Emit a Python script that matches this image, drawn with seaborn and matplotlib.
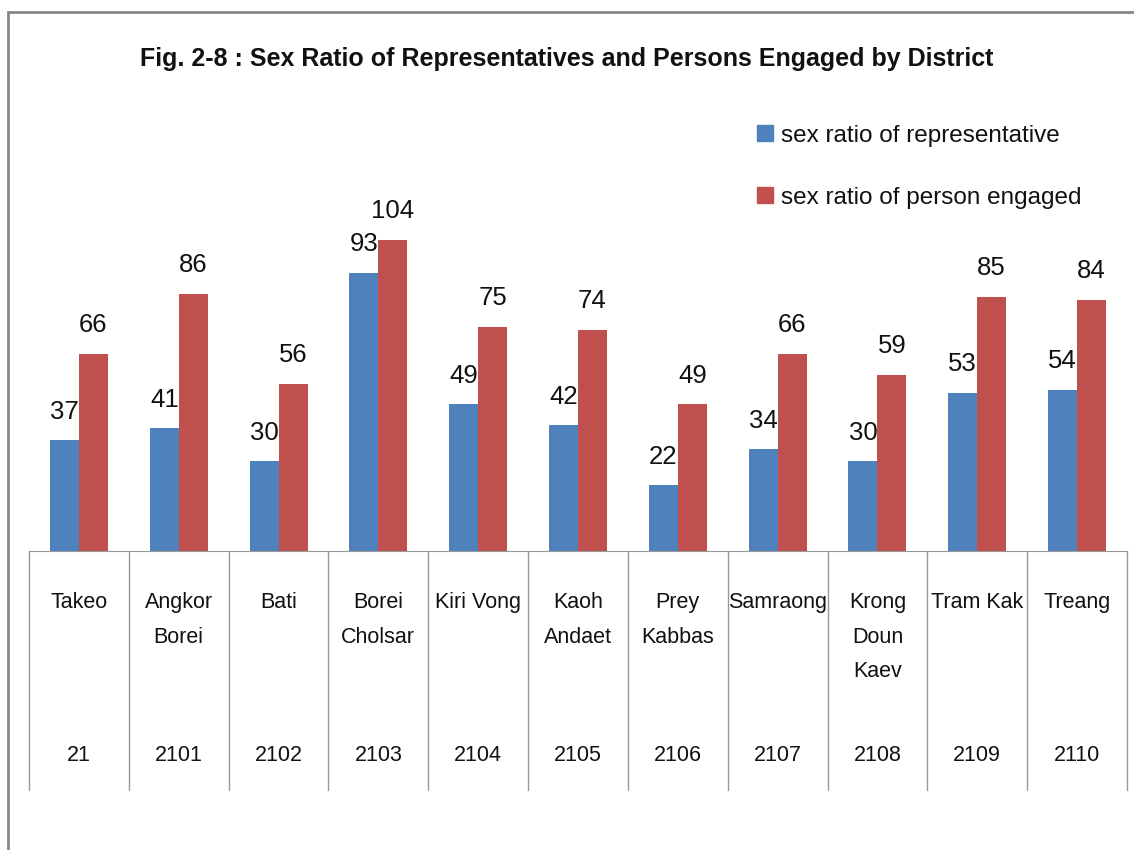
import pandas as pd
import matplotlib.pyplot as plt
import seaborn as sns
from matplotlib.patches import Rectangle
from matplotlib.lines import Line2D

# ==================== data ====================
districts = ['Takeo', 'Angkor\nBorei', 'Bati', 'Borei\nCholsar', 'Kiri Vong',
             'Kaoh\nAndaet', 'Prey\nKabbas', 'Samraong', 'Krong\nDoun\nKaev',
             'Tram Kak', 'Treang']
codes = ['21', '2101', '2102', '2103', '2104', '2105', '2106', '2107', '2108', '2109', '2110']
rep_ratio = [37, 41, 30, 93, 49, 42, 22, 34, 30, 53, 54]
eng_ratio = [66, 86, 56, 104, 75, 74, 49, 66, 59, 85, 84]
series = ['sex ratio of representative', 'sex ratio of person engaged']

df = pd.DataFrame({
    'district': districts * 2,
    'value': rep_ratio + eng_ratio,
    'series': [series[0]] * len(districts) + [series[1]] * len(districts),
})

sns.set_style('white')
plt.rcParams['font.family'] = ['Liberation Sans', 'DejaVu Sans']

fig = plt.figure(figsize=(11.34, 8.5), dpi=100)
ax = fig.add_axes([0.0256, 0.3518, 0.9682, 0.5276])

sns.barplot(data=df, x='district', y='value', hue='series',
            palette=['#4F81BD', '#C0504D'], width=0.58, gap=0,
            saturation=1, legend=False, linewidth=0, edgecolor='none', ax=ax)

for cont in ax.containers:
    ax.bar_label(cont, fontsize=18.5, padding=12, color='#111111')

ax.set_ylim(0, 150)
ax.set_xlim(-0.5, len(districts) - 0.5)
ax.set_yticks([])
ax.set_xticks([])
ax.set_xlabel('')
ax.set_ylabel('')
for s in ['top', 'left', 'right']:
    ax.spines[s].set_visible(False)
ax.spines['bottom'].set_color('#999999')

# table-like category area under the axis
trans = ax.get_xaxis_transform()
for i in range(len(districts) + 1):
    ax.plot([i - 0.5, i - 0.5], [0, -0.533], transform=trans, clip_on=False,
            color='#999999', lw=1)
for i, (name, code) in enumerate(zip(districts, codes)):
    ax.text(i, -0.092, name, transform=trans, ha='center', va='top',
            fontsize=15.5, linespacing=1.85, color='#111111')
    ax.text(i, -0.455, code, transform=trans, ha='center', va='center',
            fontsize=15.5, color='#111111')

# title
fig.text(0.5, 0.931, 'Fig. 2-8 : Sex Ratio of Representatives and Persons Engaged by District',
         ha='center', va='center', fontsize=18, fontweight='bold', color='#111111')

# legend
handles = [Line2D([], [], marker='s', ls='', markersize=11, color=c)
           for c in ['#4F81BD', '#C0504D']]
fig.legend(handles, series, loc='upper left', bbox_to_anchor=(0.645, 0.879),
           frameon=False, fontsize=17.5, labelspacing=1.65, handletextpad=0.15,
           handlelength=1.0, labelcolor='#111111')

# outer frame (top and left edges visible)
fig.add_artist(Rectangle((0.007, -0.1), 1.1, 1.0859, transform=fig.transFigure,
                         fill=False, edgecolor='#888888', lw=2))

plt.savefig('out.png', dpi=100)
